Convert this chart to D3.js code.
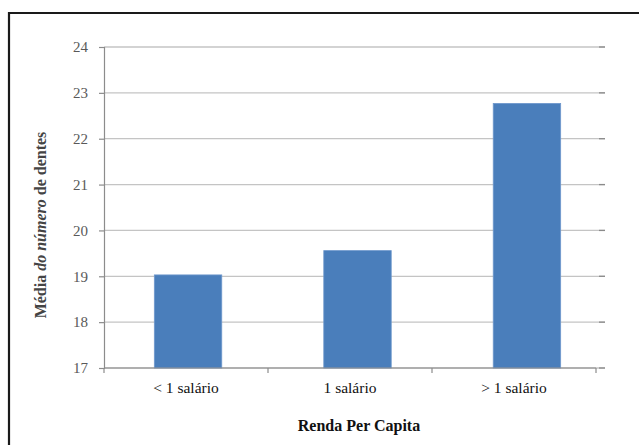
<!DOCTYPE html>
<html>
<head>
<meta charset="utf-8">
<script src="https://cdn.jsdelivr.net/npm/d3@7"></script>
<style>
  body { margin: 0; background: #fff; }
  svg { display: block; }
</style>
</head>
<body>
<div id="chart"></div>
<script>
// Mean number of teeth by per-capita income
const categories = ["< 1 salário", "1 salário", "> 1 salário"]
const values = [19.03, 19.56, 22.77]
const yTicks = [17, 18, 19, 20, 21, 22, 23, 24]

const width = 639
const height = 445
const margin = { top: 47, right: 43, bottom: 77, left: 104 }
const innerW = width - margin.left - margin.right
const innerH = height - margin.top - margin.bottom
const serif = "'Liberation Serif', 'Times New Roman', serif"

const svg = d3.select("#chart")
  .append("svg")
  .attr("width", width)
  .attr("height", height)

// outer frame (only top and left visible in the picture)
svg.append("path")
  .attr("d", `M9,${height + 5} V13 H${width + 5}`)
  .attr("fill", "none")
  .attr("stroke", "#1a1a1a")
  .attr("stroke-width", 2.2)

const g = svg.append("g")
  .attr("transform", `translate(${margin.left},${margin.top})`)

// category axis scale (labels, ticks)
const x = d3.scaleBand()
  .domain(categories)
  .range([0, innerW])

// bars sit on a slightly wider spacing in the scanned original
const xBar = d3.scaleBand()
  .domain(categories)
  .range([0, 507])
  .paddingInner(0.602)
  .paddingOuter(0.297)

const y = d3.scaleLinear()
  .domain([17, 24])
  .range([innerH, 0])

// gridlines
g.selectAll(".grid")
  .data(yTicks)
  .join("line")
  .attr("class", "grid")
  .attr("x1", 0)
  .attr("x2", innerW + 9)
  .attr("y1", d => y(d))
  .attr("y2", d => y(d))
  .attr("stroke", "#c4c4c4")
  .attr("stroke-width", 1.3)

// small right-end ticks
g.selectAll(".rtick")
  .data(yTicks)
  .join("line")
  .attr("class", "rtick")
  .attr("x1", innerW + 3)
  .attr("x2", innerW + 9)
  .attr("y1", d => y(d))
  .attr("y2", d => y(d))
  .attr("stroke", "#8a8a8a")
  .attr("stroke-width", 1.3)

// bars
g.selectAll(".bar")
  .data(values)
  .join("rect")
  .attr("class", "bar")
  .attr("x", (d, i) => xBar(categories[i]))
  .attr("width", xBar.bandwidth())
  .attr("y", d => y(d))
  .attr("height", d => innerH - y(d))
  .attr("fill", "#4a7ebb")
  .attr("stroke", "#6f98cc")
  .attr("stroke-width", 0.8)

// y axis
const yAxis = d3.axisLeft(y)
  .tickValues(yTicks)
  .tickSize(5)
  .tickPadding(11)
  .tickFormat(d3.format("d"))

const yg = g.append("g").call(yAxis)
yg.selectAll("text")
  .attr("fill", "#595959")
  .attr("font-family", serif)
  .attr("font-size", "15px")
yg.selectAll(".domain, .tick line").attr("stroke", "#8c8c8c").attr("stroke-width", 1.2)

// x axis with ticks at band boundaries
const xg = g.append("g").attr("transform", `translate(0,${innerH})`)
xg.append("line")
  .attr("x1", 0).attr("x2", innerW)
  .attr("y1", 0).attr("y2", 0)
  .attr("stroke", "#8c8c8c").attr("stroke-width", 1.2)

const bounds = categories.map(c => x(c)).concat([innerW])
xg.selectAll(".xtick")
  .data(bounds)
  .join("line")
  .attr("class", "xtick")
  .attr("x1", d => d).attr("x2", d => d)
  .attr("y1", 0).attr("y2", 5)
  .attr("stroke", "#8c8c8c").attr("stroke-width", 1.2)

xg.selectAll(".xlabel")
  .data(categories)
  .join("text")
  .attr("class", "xlabel")
  .attr("x", d => x(d) + x.bandwidth() / 2)
  .attr("y", 25)
  .attr("text-anchor", "middle")
  .attr("fill", "#111")
  .attr("font-family", serif)
  .attr("font-size", "15.5px")
  .text(d => d)

// x title
svg.append("text")
  .attr("x", 359)
  .attr("y", 431)
  .attr("text-anchor", "middle")
  .attr("fill", "#111")
  .attr("font-family", serif)
  .attr("font-size", "16px")
  .attr("font-weight", "bold")
  .text("Renda Per Capita")

// y title
const yt = svg.append("text")
  .attr("transform", `translate(46,225) rotate(-90)`)
  .attr("text-anchor", "middle")
  .attr("fill", "#444")
  .attr("font-family", serif)
  .attr("font-size", "16px")
  .attr("font-weight", "bold")
yt.append("tspan").text("Média ")
yt.append("tspan").attr("font-style", "italic").text("do número")
yt.append("tspan").text(" de dentes")
</script>
</body>
</html>
